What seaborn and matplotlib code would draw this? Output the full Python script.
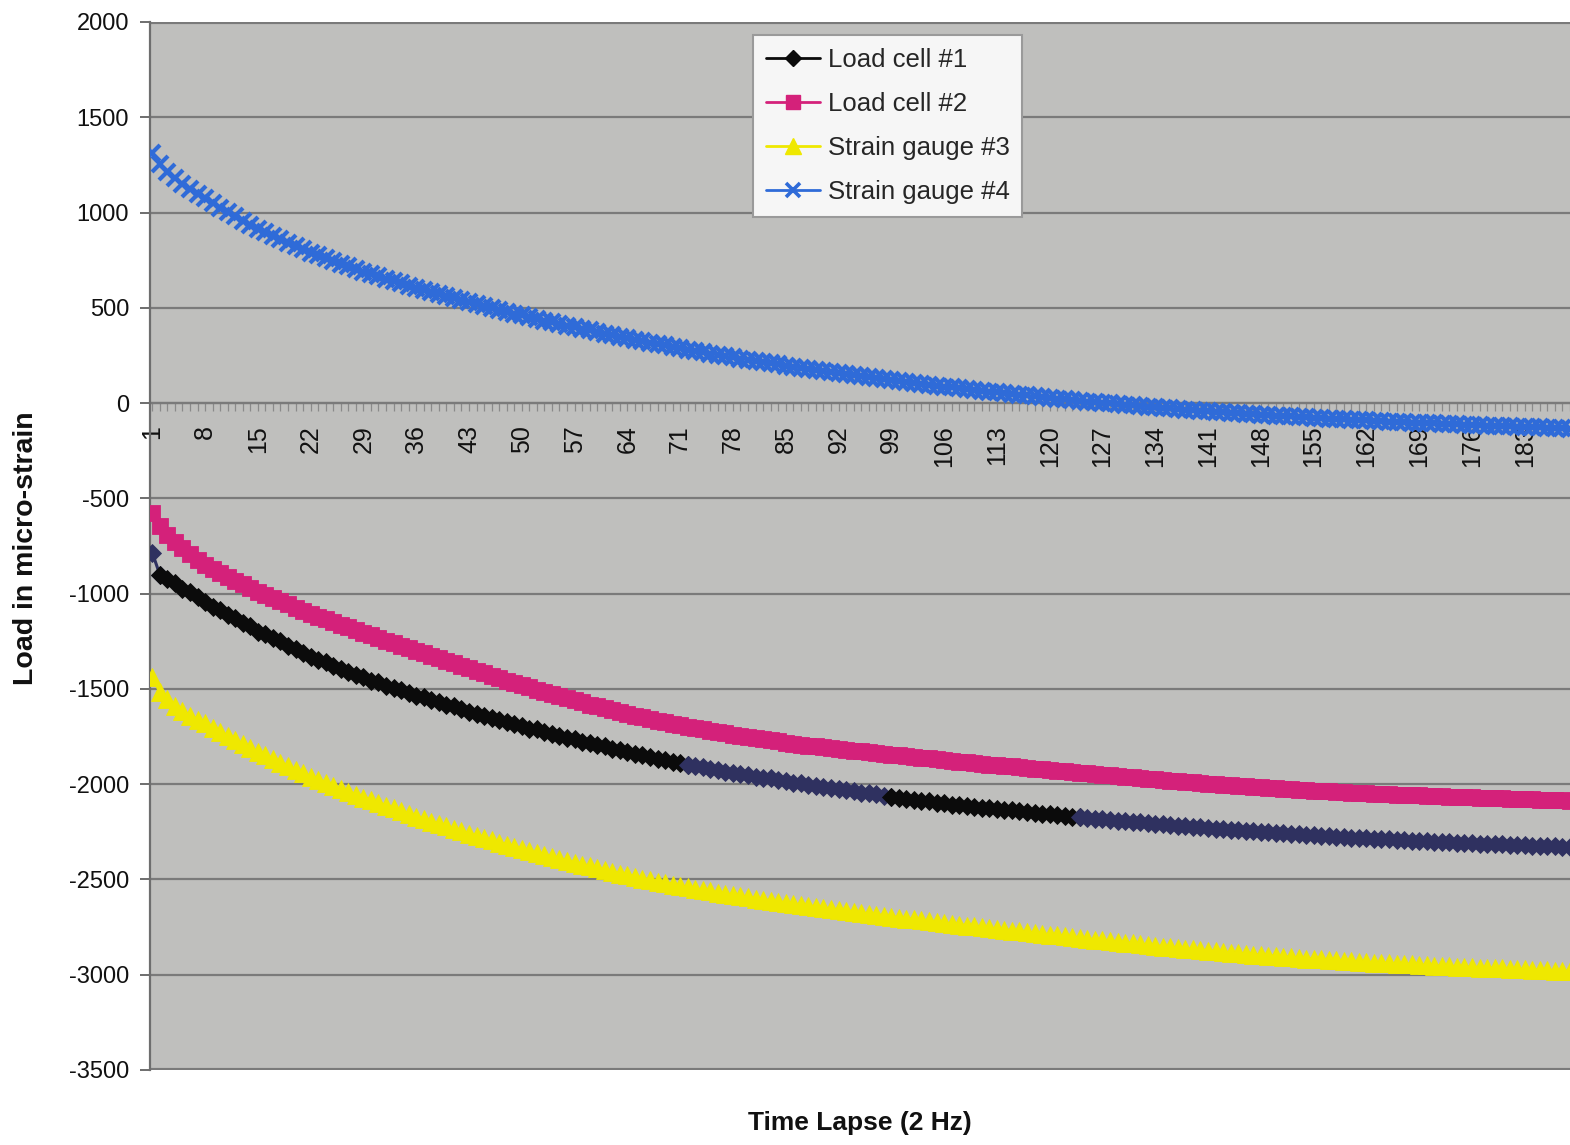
import matplotlib
matplotlib.use("Agg")
import numpy as np
import pandas as pd
import matplotlib.pyplot as plt
from matplotlib.lines import Line2D
import seaborn as sns

# Readings sampled at 2 Hz, one value per sample index (micro-strain)
load_cell_1 = [
    -785, -900, -925, -945, -975, -990, -1020, -1045,
    -1068, -1085, -1112, -1130, -1155, -1170, -1200,
    -1212, -1235, -1250, -1275, -1288, -1312, -1330,
    -1348, -1360, -1382, -1393, -1412, -1425, -1440,
    -1458, -1466, -1485, -1495, -1508, -1522, -1535,
    -1545, -1560, -1570, -1584, -1592, -1608, -1620,
    -1632, -1640, -1655, -1662, -1676, -1684, -1695,
    -1708, -1712, -1728, -1735, -1745, -1758, -1765,
    -1778, -1785, -1796, -1802, -1815, -1822, -1830,
    -1840, -1848, -1855, -1866, -1872, -1882, -1890,
    -1900, -1902, -1912, -1918, -1925, -1935, -1940,
    -1948, -1952, -1960, -1966, -1970, -1980, -1985,
    -1992, -1996, -2004, -2008, -2015, -2018, -2025,
    -2032, -2036, -2044, -2048, -2052, -2060, -2065,
    -2075, -2078, -2082, -2088, -2090, -2098, -2100,
    -2108, -2110, -2115, -2118, -2124, -2126, -2130,
    -2136, -2138, -2143, -2146, -2150, -2154, -2158,
    -2162, -2166, -2170, -2173, -2177, -2181, -2185,
    -2189, -2191, -2195, -2198, -2201, -2205, -2208,
    -2211, -2215, -2218, -2221, -2224, -2227, -2230,
    -2233, -2236, -2239, -2241, -2244, -2247, -2250,
    -2253, -2255, -2258, -2260, -2263, -2265, -2268,
    -2270, -2273, -2275, -2277, -2280, -2282, -2284,
    -2286, -2288, -2290, -2292, -2294, -2296, -2298,
    -2300, -2302, -2303, -2305, -2307, -2308, -2310,
    -2312, -2313, -2315, -2316, -2318, -2319, -2321,
    -2323, -2324, -2326, -2327, -2329, -2330,
]

load_cell_2 = [
    -577, -645, -690, -728, -762, -793, -822, -850,
    -872, -893, -913, -933, -952, -971, -990,
    -1007, -1024, -1041, -1057, -1073, -1089, -1105,
    -1120, -1135, -1149, -1163, -1177, -1191, -1205,
    -1219, -1233, -1247, -1260, -1273, -1287, -1300,
    -1313, -1326, -1339, -1352, -1365, -1379, -1392,
    -1405, -1418, -1431, -1443, -1456, -1468, -1480,
    -1492, -1504, -1516, -1527, -1538, -1549, -1560,
    -1571, -1582, -1592, -1602, -1612, -1622, -1632,
    -1641, -1650, -1658, -1666, -1674, -1682, -1690,
    -1698, -1705, -1712, -1719, -1726, -1733, -1740,
    -1746, -1752, -1758, -1764, -1770, -1776, -1782,
    -1787, -1792, -1797, -1802, -1807, -1811, -1815,
    -1820, -1824, -1828, -1832, -1836, -1841, -1845,
    -1849, -1853, -1857, -1861, -1865, -1869, -1873,
    -1877, -1881, -1885, -1889, -1893, -1897, -1900,
    -1904, -1907, -1911, -1914, -1918, -1921, -1925,
    -1929, -1932, -1936, -1939, -1943, -1946, -1950,
    -1954, -1957, -1961, -1964, -1967, -1971, -1974,
    -1977, -1981, -1984, -1987, -1991, -1994, -1997,
    -2000, -2003, -2006, -2009, -2012, -2015, -2017,
    -2020, -2022, -2025, -2027, -2030, -2032, -2034,
    -2036, -2038, -2040, -2042, -2044, -2046, -2048,
    -2050, -2051, -2053, -2055, -2056, -2058, -2059,
    -2061, -2062, -2064, -2065, -2067, -2068, -2069,
    -2070, -2072, -2073, -2074, -2076, -2077, -2078,
    -2079, -2081, -2082, -2083, -2085, -2086,
]

strain_gauge_3 = [
    -1435, -1515, -1555, -1588, -1615, -1640, -1661, -1680,
    -1703, -1725, -1747, -1768, -1789, -1810, -1830,
    -1849, -1868, -1887, -1906, -1924, -1942, -1960,
    -1976, -1992, -2008, -2024, -2040, -2055, -2070,
    -2085, -2099, -2113, -2127, -2141, -2156, -2170,
    -2183, -2196, -2209, -2222, -2235, -2248, -2260,
    -2272, -2284, -2295, -2307, -2318, -2329, -2340,
    -2351, -2361, -2371, -2382, -2392, -2402, -2412,
    -2422, -2431, -2441, -2450, -2460, -2469, -2478,
    -2487, -2495, -2503, -2511, -2519, -2527, -2535,
    -2542, -2549, -2556, -2563, -2570, -2576, -2582,
    -2588, -2594, -2600, -2606, -2612, -2617, -2622,
    -2628, -2633, -2639, -2644, -2650, -2655, -2660,
    -2665, -2670, -2675, -2680, -2685, -2690, -2695,
    -2700, -2705, -2710, -2714, -2719, -2724, -2728,
    -2733, -2737, -2742, -2746, -2751, -2756, -2760,
    -2764, -2769, -2773, -2777, -2782, -2786, -2790,
    -2794, -2799, -2803, -2807, -2812, -2816, -2820,
    -2824, -2828, -2832, -2836, -2840, -2844, -2848,
    -2852, -2856, -2860, -2863, -2867, -2871, -2874,
    -2878, -2881, -2884, -2888, -2891, -2894, -2897,
    -2900, -2903, -2906, -2909, -2912, -2915, -2917,
    -2920, -2922, -2925, -2927, -2930, -2932, -2934,
    -2936, -2938, -2940, -2942, -2944, -2946, -2949,
    -2951, -2953, -2955, -2956, -2958, -2960, -2961,
    -2963, -2964, -2966, -2967, -2969, -2970, -2972,
    -2974, -2975, -2977, -2978, -2980, -2981,
]

strain_gauge_4 = [
    1310, 1255, 1215, 1180, 1150, 1122, 1097, 1075,
    1050, 1026, 1003, 980, 958, 936, 915,
    896, 878, 860, 842, 824, 807, 790,
    775, 760, 746, 732, 718, 704, 690,
    677, 665, 653, 641, 629, 617, 605,
    594, 583, 572, 561, 550, 540, 530,
    520, 510, 500, 490, 480, 470, 460,
    451, 442, 433, 424, 415, 406, 398,
    389, 381, 373, 365, 357, 348, 340,
    332, 324, 317, 310, 303, 296, 288,
    281, 274, 267, 260, 253, 246, 240,
    234, 228, 222, 216, 210, 203, 197,
    191, 185, 179, 173, 167, 162, 157,
    152, 147, 142, 137, 132, 127, 121,
    116, 111, 106, 101, 96, 91, 87,
    82, 78, 73, 69, 64, 60, 56,
    52, 48, 44, 40, 36, 32, 27,
    23, 19, 15, 11, 8, 4, 1,
    -2, -5, -9, -12, -15, -19, -22,
    -25, -28, -31, -34, -37, -40, -43,
    -46, -49, -51, -54, -56, -59, -61,
    -63, -66, -68, -70, -73, -75, -77,
    -79, -81, -83, -85, -87, -89, -91,
    -93, -95, -97, -99, -101, -103, -104,
    -106, -107, -109, -110, -112, -113, -115,
    -116, -118, -119, -121, -122, -124, -125,
    -127, -128, -130, -131, -133, -134,
]

series_names = ["Load cell #1", "Load cell #2", "Strain gauge #3", "Strain gauge #4"]
y_ticks = list(range(-3500, 2001, 500))
x_label_every = 7

# Load cell #1 trace is printed in alternating ink: (first sample, last sample, colour)
lc1_ink = [(1, 2, "#2f3160"), (2, 72, "#0b0b0b"), (72, 99, "#2f3160"),
           (99, 124, "#0b0b0b"), (124, 189, "#2f3160")]

sns.set_style("white")
plt.rcParams["font.family"] = ["Liberation Sans", "DejaVu Sans"]

W, H = 1570, 1145
fig = plt.figure(figsize=(W / 100, H / 100), dpi=100)
fig.patch.set_facecolor("white")
ax = fig.add_axes([150 / W, 75 / H, 1420 / W, 1048 / H])
ax.set_facecolor("#bfbfbd")

def frame(values):
    return pd.DataFrame({"sample": np.arange(1, len(values) + 1), "value": values})

df1 = frame(load_cell_1)
df2 = frame(load_cell_2)
df3 = frame(strain_gauge_3)
df4 = frame(strain_gauge_4)

for start, stop, ink in lc1_ink:
    part = df1[(df1["sample"] >= start) & (df1["sample"] <= stop)]
    sns.lineplot(data=part, x="sample", y="value", ax=ax, color=ink, lw=2.2,
                 marker="D", markersize=9.5, markeredgecolor=ink,
                 markeredgewidth=0.6, legend=False, zorder=3)

styles = {
    "Load cell #2": dict(color="#d4217a", marker="s", markersize=12),
    "Strain gauge #3": dict(color="#efe800", marker="^", markersize=12.5),
    "Strain gauge #4": dict(color="#2f6bd8", marker="x", markersize=11.5),
}
for name, df in zip(series_names[1:], [df2, df3, df4]):
    st = styles[name]
    mew = 3.0 if st["marker"] == "x" else 0.6
    sns.lineplot(data=df, x="sample", y="value", ax=ax, color=st["color"], lw=2.2,
                 marker=st["marker"], markersize=st["markersize"],
                 markeredgecolor=st["color"], markeredgewidth=mew,
                 legend=False, zorder=3)

# axes and grid
ax.set_ylim(-3500, 2000)
ax.set_xlim(0.7, 188.8)
ax.set_yticks(y_ticks)
ax.set_yticklabels([str(v) for v in y_ticks])
samples = np.arange(1, len(load_cell_1) + 1)
ax.set_xticks(samples)
ax.set_xticklabels([str(s) if (s - 1) % x_label_every == 0 else "" for s in samples])
ax.yaxis.grid(True, color="#7a7a7a", lw=1.6)
ax.xaxis.grid(False)
ax.set_axisbelow(True)
ax.axhline(-3500, color="#7a7a7a", lw=3, zorder=1)
ax.axhline(2000, color="#7a7a7a", lw=3, zorder=1)

for side in ("top", "right"):
    ax.spines[side].set_visible(False)
ax.spines["left"].set_color("#6e6e6e")
ax.spines["left"].set_linewidth(1.6)
ax.spines["bottom"].set_position(("data", 0))
ax.spines["bottom"].set_color("#7a7a7a")
ax.spines["bottom"].set_linewidth(1.6)
ax.spines["bottom"].set_zorder(2)

ax.tick_params(axis="y", which="major", direction="out", length=7, width=1.4,
               color="#6e6e6e", pad=8, labelsize=17, labelcolor="#111111", left=True)
ax.tick_params(axis="x", which="major", direction="out", length=6, width=0.9,
               color="#8a8a8a", pad=10, labelsize=18, labelcolor="#111111",
               bottom=True, labelrotation=90)
for lbl in ax.get_xticklabels():
    lbl.set_rotation(90)
    lbl.set_va("top")
    lbl.set_ha("center")
ax.set_xlabel("")
ax.set_ylabel("")

fig.text(860 / W, 1 - 1123 / H, "Time Lapse (2 Hz)", ha="center", va="center",
         fontsize=19, fontweight="bold", color="#111111")
fig.text(26 / W, 1 - 548 / H, "Load in micro-strain", ha="center", va="center",
         rotation=90, fontsize=20.5, fontweight="bold", color="#111111")

handles = [
    Line2D([], [], color="#0b0b0b", lw=2, marker="D", markersize=8),
    Line2D([], [], color="#d4217a", lw=2, marker="s", markersize=10),
    Line2D([], [], color="#efe800", lw=2, marker="^", markersize=11),
    Line2D([], [], color="#2f6bd8", lw=2, marker="x", markersize=10, markeredgewidth=2.6),
]
leg = fig.legend(handles, series_names, loc="upper left",
                 bbox_to_anchor=(753 / W, 1 - 35 / H), frameon=True, fancybox=False,
                 fontsize=18.5, handlelength=2.1, handletextpad=0.3, borderpad=0.5,
                 labelspacing=0.78, borderaxespad=0)
leg.get_frame().set_facecolor("#f6f6f6")
leg.get_frame().set_edgecolor("#9a9a9a")
leg.get_frame().set_linewidth(1.5)
leg.get_frame().set_alpha(1)

fig.savefig("out.png", dpi=100, facecolor="white")
